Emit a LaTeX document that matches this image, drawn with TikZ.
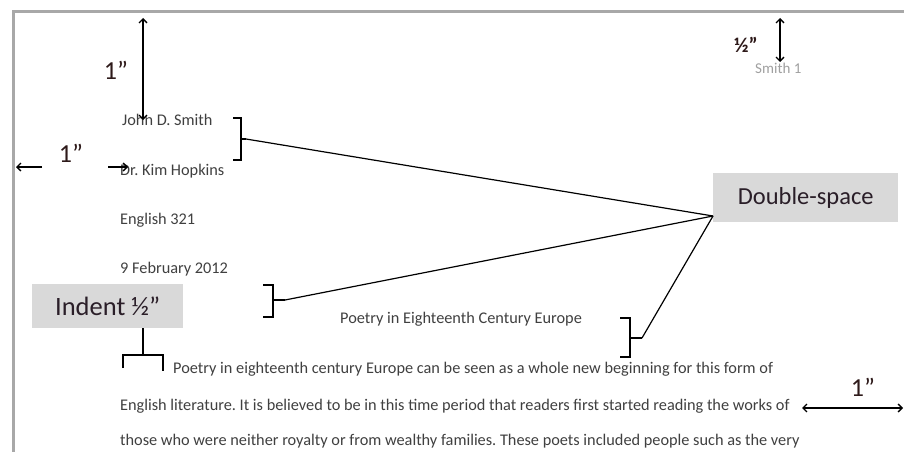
\documentclass[tikz,border=0pt]{standalone}
\usepackage{fontspec}
\setmainfont{Carlito}
\usetikzlibrary{arrows.meta}
\definecolor{txtgray}{HTML}{404040}
\definecolor{hdrgray}{HTML}{A0A0A0}
\definecolor{boxgray}{HTML}{D9D9D9}
\definecolor{bordergray}{HTML}{A8A8A8}
\definecolor{lbltext}{HTML}{2A1E28}
\definecolor{dimtext}{HTML}{2E1A1A}
\frenchspacing
\begin{document}
\begin{tikzpicture}[x=1pt,y=-1pt,
  body/.style={anchor=base west, inner sep=0pt, text=txtgray, font=\fontsize{16.3}{19}\selectfont},
  lbl/.style={fill=boxgray, inner sep=0pt, anchor=north west, font=\fontsize{24.5}{28}\selectfont, text=lbltext},
  dimtxt/.style={inner sep=0pt, text=dimtext, font=\fontsize{26}{30}\selectfont},
  dimline/.style={line width=1.3pt, draw=black, {Straight Barb[length=4pt,width=8pt]}-{Straight Barb[length=4pt,width=8pt]}},
  oneway/.style={line width=1.3pt, draw=black, -{Straight Barb[length=4pt,width=8pt]}},
  brk/.style={line width=1.2pt, draw=black},
  conn/.style={line width=1.2pt, draw=black}]
\useasboundingbox (0,0) rectangle (904,452);
\fill[white] (0,0) rectangle (904,452);
% page edges
\fill[bordergray] (12,10) rectangle (904,13);
\fill[bordergray] (12,10) rectangle (15,452);
% header
\node[body, text=hdrgray, font=\fontsize{15}{18}\selectfont] (hdr) at (755,74) {Smith 1};
% heading lines
\node[body] (name) at (122,125) {John D. Smith};
\node[body] (prof) at (120,175) {Dr. Kim Hopkins};
\node[body] (course) at (120,224) {English 321};
\node[body] (date) at (120,273) {9 February 2012};
\node[body] (title) at (340,323) {Poetry in Eighteenth Century Europe};
\node[body] (p1) at (173,373) {Poetry in eighteenth century Europe can be seen as a whole new beginning for this form of};
\node[body] (p2) at (120,410) {English literature. It is believed to be in this time period that readers first started reading the works of};
\node[body] (p3) at (120,445) {those who were neither royalty or from wealthy families. These poets included people such as the very};
% callout boxes
\node[lbl, minimum width=185pt, minimum height=49pt] (ds) at (713,173) {Double-space};
\node[lbl, minimum width=151pt, minimum height=44pt, font=\fontsize{26.5}{30}\selectfont] (ind) at (32,284) {Indent ½”\hspace{5pt}};
\coordinate (dsp) at (713,216);
% brackets
\draw[brk] (233,118) -- (241,118) -- (241,160) -- (233,160);
\coordinate (b1) at (246,139);
\draw[brk] (241,139) -- (b1);
\draw[brk] (263,285) -- (273,285) -- (273,317) -- (263,317);
\coordinate (b2) at (285,300);
\draw[brk] (273,300) -- (b2);
\draw[brk] (620,318) -- (630,318) -- (630,357) -- (620,357);
\coordinate (b3) at (642,338);
\draw[brk] (630,338) -- (b3);
\draw[conn] (b1) -- (dsp);
\draw[conn] (b2) -- (dsp);
\draw[conn] (b3) -- (dsp);
% indent bracket
\coordinate (stemtop) at (143,328);
\coordinate (stembot) at (143,355);
\draw[brk] (123,368) -- (123,355) -- (163,355) -- (163,371);
\draw[brk] (stemtop) -- (stembot);
% dimension arrows
\coordinate (ta1) at (143,18); \coordinate (ta2) at (143,120);
\draw[dimline] (ta1) -- (ta2);
\node[dimtxt] (t1) at (116,70) {1”};
\coordinate (la1) at (42,167); \coordinate (la2) at (16,167);
\coordinate (la3) at (108,167); \coordinate (la4) at (128,167);
\draw[oneway] (la1) -- (la2);
\draw[oneway] (la3) -- (la4);
\node[dimtxt] (t2) at (71,153) {1”};
\coordinate (ha1) at (780,18); \coordinate (ha2) at (780,62);
\draw[dimline] (ha1) -- (ha2);
\node[dimtxt, font=\bfseries\fontsize{21}{24}\selectfont] (t3) at (746,45) {½”};
\coordinate (ra1) at (802,408); \coordinate (ra2) at (903,408);
\draw[dimline] (ra1) -- (ra2);
\node[dimtxt] (t4) at (863,387) {1”};
\end{tikzpicture}
\end{document}
